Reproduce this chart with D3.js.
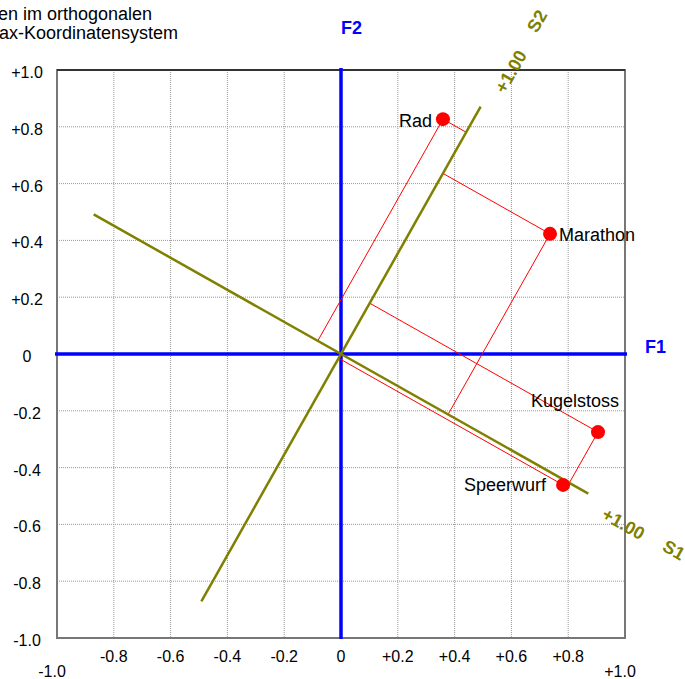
<!DOCTYPE html>
<html>
<head>
<meta charset="utf-8">
<script src="https://cdn.jsdelivr.net/npm/d3@7"></script>
<style>
  html, body { margin: 0; padding: 0; background: #fff; }
  svg { display: block; font-family: "Liberation Sans", Arial, Helvetica, sans-serif; }
</style>
</head>
<body>
<svg id="chart" width="685" height="679"></svg>
<script>
// Variables and their loadings on the unrotated factors F1 / F2
const variables = ["Rad", "Marathon", "Kugelstoss", "Speerwurf"];
const loadF1 = [0.359, 0.736, 0.905, 0.782];
const loadF2 = [0.827, 0.423, -0.275, -0.461];

// Rotated (orthogonal) axes S1 / S2: direction angle in degrees, measured in F1/F2 space
const axisNames = ["S1", "S2"];
const axisAngles = [-29.45, 60.55];
const axisEndLabel = "+1.00";

// Tick values / labels
const ticks = [-1.0, -0.8, -0.6, -0.4, -0.2, 0, 0.2, 0.4, 0.6, 0.8, 1.0];
const titleLines = ["Variablen im orthogonalen", "Varimax-Koordinatensystem"];

const svg = d3.select("#chart");
const x = d3.scaleLinear().domain([-1, 1]).range([57, 625]);
const y = d3.scaleLinear().domain([-1, 1]).range([638, 70]);

const OLIVE = "#808000", BLUE = "#0000ff", RED = "#ff0000";
const fmt = v => v === 0 ? "0" : (v > 0 ? "+" : "-") + Math.abs(v).toFixed(1);

// Title (runs off the left edge)
svg.append("g").selectAll("text").data(titleLines).join("text")
  .attr("x", (d, i) => i === 0 ? 152 : 178)
  .attr("y", (d, i) => i === 0 ? 20 : 39)
  .attr("text-anchor", "end")
  .attr("font-size", 18)
  .attr("fill", "#000")
  .text(d => d);

// Grid
const inner = ticks.filter(t => Math.abs(t) < 1 && t !== 0);
const grid = svg.append("g").attr("stroke", "#999").attr("stroke-width", 1).attr("stroke-dasharray", "1,1");
grid.selectAll("line.v").data(inner.concat([0])).join("line").attr("class", "v")
  .attr("x1", d => x(d)).attr("x2", d => x(d)).attr("y1", y(1)).attr("y2", y(-1));
grid.selectAll("line.h").data(inner).join("line").attr("class", "h")
  .attr("x1", x(-1)).attr("x2", x(1)).attr("y1", d => y(d)).attr("y2", d => y(d));

// Frame
svg.append("rect")
  .attr("x", x(-1)).attr("y", y(1)).attr("width", x(1) - x(-1)).attr("height", y(-1) - y(1))
  .attr("fill", "none").attr("stroke", "#777").attr("stroke-width", 2);
svg.append("line").attr("x1", x(-1)).attr("x2", x(1)).attr("y1", y(1)).attr("y2", y(1))
  .attr("stroke", "#333").attr("stroke-width", 2);

// Y tick labels
svg.append("g").selectAll("text").data(ticks).join("text")
  .attr("x", 27).attr("y", d => y(d) + 8)
  .attr("text-anchor", "middle").attr("font-size", 16).attr("fill", "#000")
  .text(fmt);

// X tick labels (outer ones on a lower row)
svg.append("g").selectAll("text").data(ticks).join("text")
  .attr("x", d => Math.abs(d) === 1 ? x(d) - 5 : x(d))
  .attr("y", d => Math.abs(d) === 1 ? 677 : 662)
  .attr("text-anchor", "middle").attr("font-size", 16).attr("fill", "#000")
  .text(fmt);

// Factor axes F1 / F2
svg.append("line").attr("x1", 55).attr("x2", x(1) + 2).attr("y1", y(0)).attr("y2", y(0))
  .attr("stroke", BLUE).attr("stroke-width", 3.5);
svg.append("line").attr("x1", x(0)).attr("x2", x(0)).attr("y1", y(1) - 2).attr("y2", y(-1) + 1)
  .attr("stroke", BLUE).attr("stroke-width", 3.5);
svg.append("text").attr("x", 645).attr("y", 353).attr("font-size", 18).attr("font-weight", "bold")
  .attr("fill", BLUE).text("F1");
svg.append("text").attr("x", 341).attr("y", 34).attr("font-size", 18).attr("font-weight", "bold")
  .attr("fill", BLUE).text("F2");

// Unit direction vectors of the rotated axes
const dirs = axisAngles.map(a => [Math.cos(a * Math.PI / 180), Math.sin(a * Math.PI / 180)]);

// Projection lines from each variable onto S1 and S2
const proj = svg.append("g").attr("stroke", RED).attr("stroke-width", 1);
variables.forEach((v, i) => {
  const p = [loadF1[i], loadF2[i]];
  dirs.forEach(d => {
    const s = p[0] * d[0] + p[1] * d[1];
    proj.append("line")
      .attr("x1", x(p[0])).attr("y1", y(p[1]))
      .attr("x2", x(s * d[0])).attr("y2", y(s * d[1]));
  });
});

// Rotated axes S1 / S2 with their end label and name beyond the +1 end
const sAxes = svg.append("g");
dirs.forEach((d, k) => {
  sAxes.append("line")
    .attr("x1", x(-d[0])).attr("y1", y(-d[1]))
    .attr("x2", x(d[0])).attr("y2", y(d[1]))
    .attr("stroke", OLIVE).attr("stroke-width", 2.5);
  const ang = -axisAngles[k];   // screen rotation of the axis
  [[1.16, axisEndLabel, 9], [1.36, axisNames[k], 7]].forEach(([t, txt, off]) => {
    // shift the label slightly off the axis direction (clockwise normal on screen)
    const px = x(d[0] * t) + d[1] * off;
    const py = y(d[1] * t) + d[0] * off;
    sAxes.append("text")
      .attr("transform", `translate(${px},${py}) rotate(${ang})`)
      .attr("text-anchor", "middle").attr("dy", "0.35em")
      .attr("font-size", 18).attr("font-weight", "bold").attr("fill", OLIVE)
      .text(txt);
  });
});

// Variable points and names
const pts = svg.append("g");
pts.selectAll("circle").data(variables).join("circle")
  .attr("cx", (d, i) => x(loadF1[i])).attr("cy", (d, i) => y(loadF2[i]))
  .attr("r", 7).attr("fill", RED);

const labelPos = { "Rad": ["end", -11, 8], "Marathon": ["start", 9, 7], "Kugelstoss": ["end", 21, -25], "Speerwurf": ["end", -17, 6] };
pts.selectAll("text").data(variables).join("text")
  .attr("x", (d, i) => x(loadF1[i]) + labelPos[d][1])
  .attr("y", (d, i) => y(loadF2[i]) + labelPos[d][2])
  .attr("text-anchor", d => labelPos[d][0])
  .attr("font-size", 18).attr("fill", "#000")
  .text(d => d);
</script>
</body>
</html>
